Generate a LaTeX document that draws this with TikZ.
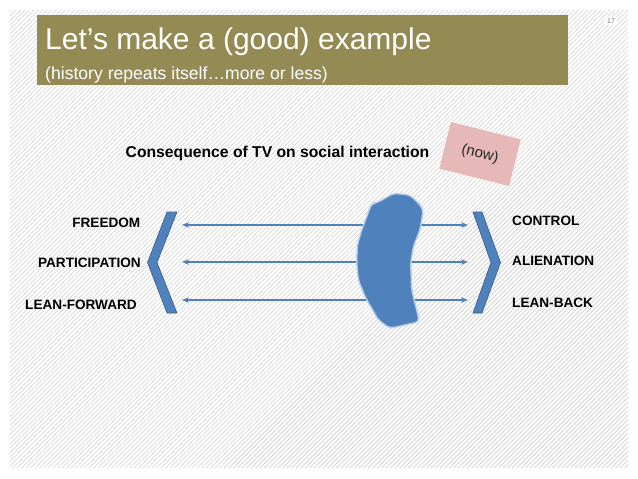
\documentclass[tikz,border=0pt]{standalone}
\usepackage{fontspec}
\setmainfont{Liberation Sans}
\usetikzlibrary{arrows.meta}
\definecolor{titleolive}{HTML}{948A54}
\definecolor{tvblue}{HTML}{4F81BD}
\definecolor{tvedge}{HTML}{385D8A}
\definecolor{blobedge}{HTML}{B9CDE5}
\definecolor{pinkbox}{HTML}{E6B9B8}
\definecolor{hatchgray}{HTML}{CFCFCF}
\begin{document}
\begin{tikzpicture}[x=1pt,y=-1pt,
  lab/.style={font=\fontsize{13.6}{16}\selectfont\bfseries, inner sep=0pt},
  arr/.style={draw=tvblue, line width=1.3pt, {Stealth[length=7pt,width=5.5pt]}-{Stealth[length=7pt,width=5.5pt]}},
  chev/.style={fill=tvblue, draw=tvedge, line width=0.6pt, line join=miter}]
\useasboundingbox (0,0) rectangle (638,479);
\fill[white] (0,0) rectangle (638,479);
% background hatching
\begin{scope}
  \clip (10,10) rectangle (628,468);
  \foreach \i in {-460,-455.5,...,630} \draw[hatchgray, line width=0.7pt] (\i,468) -- ++(458,-458);
\end{scope}
% title box
\fill[titleolive] (37,15) rectangle (568,85);
\node[anchor=base west, inner sep=0pt, text=white, font=\fontsize{30}{36}\selectfont] (title) at (45,49) {Let’s make a (good) example};
\node[anchor=base west, inner sep=0pt, text=white, font=\fontsize{17.6}{21}\selectfont] (subtitle) at (45,79) {(history repeats itself…more or less)};
% page number
\node[fill=white, inner sep=2pt, text=black!55, font=\fontsize{7}{8}\selectfont] (pnum) at (611,21) {17};
% heading
\node[anchor=base, inner sep=0pt, font=\fontsize{15.7}{18}\selectfont\bfseries] (head) at (277.5,157) {Consequence of TV on social interaction};
% pink (now) box
\node[fill=pinkbox, minimum width=72pt, minimum height=48pt, rotate=-14] (nowbox) at (480,154) {};
\node[rotate=-14, inner sep=0pt, text=black!85, font=\fontsize{15}{18}\selectfont] (now) at (nowbox.center) {(now)};
% arrows
\coordinate (l1) at (182,225); \coordinate (r1) at (468,225);
\coordinate (l2) at (182,262); \coordinate (r2) at (468,262);
\coordinate (l3) at (182,300); \coordinate (r3) at (468,300);
\draw[arr] (l1) -- (r1);
\draw[arr] (l2) -- (r2);
\draw[arr] (l3) -- (r3);
% chevrons
\draw[chev] (167,212) -- (177,212) -- (157,262.5) -- (177,313) -- (167,313) -- (147.5,262.5) -- cycle;
\draw[chev] (473,212) -- (482,212) -- (500.5,262.5) -- (482,313) -- (473,313) -- (491,262.5) -- cycle;
% blob (TV)
\draw[fill=tvblue, draw=blobedge, line width=1.4pt, rounded corners=4pt]
  (371.7,203.3) -- (377.3,202.7) -- (393.3,193.3) -- (410,195) -- (420,205) -- (423.3,210)
  -- (420,230) -- (413.3,246.7) -- (410.7,263.3) -- (411.7,290) -- (416.7,310) -- (419.3,321.7)
  -- (390,328.3) -- (378.3,320) -- (365,296.7) -- (358.3,280) -- (356.7,263.3) -- (357.3,245)
  -- (361.7,230) -- (366.7,216.7) -- cycle;
% labels
\node[lab, anchor=base east] (freedom) at (140.5,227) {FREEDOM};
\node[lab, anchor=base east] (particip) at (141,267) {PARTICIPATION};
\node[lab, anchor=base east] (leanf) at (137,309) {LEAN-FORWARD};
\node[lab, anchor=base west] (control) at (512,225) {CONTROL};
\node[lab, anchor=base west] (alien) at (512,265) {ALIENATION};
\node[lab, anchor=base west] (leanb) at (512,307) {LEAN-BACK};
\end{tikzpicture}
\end{document}
